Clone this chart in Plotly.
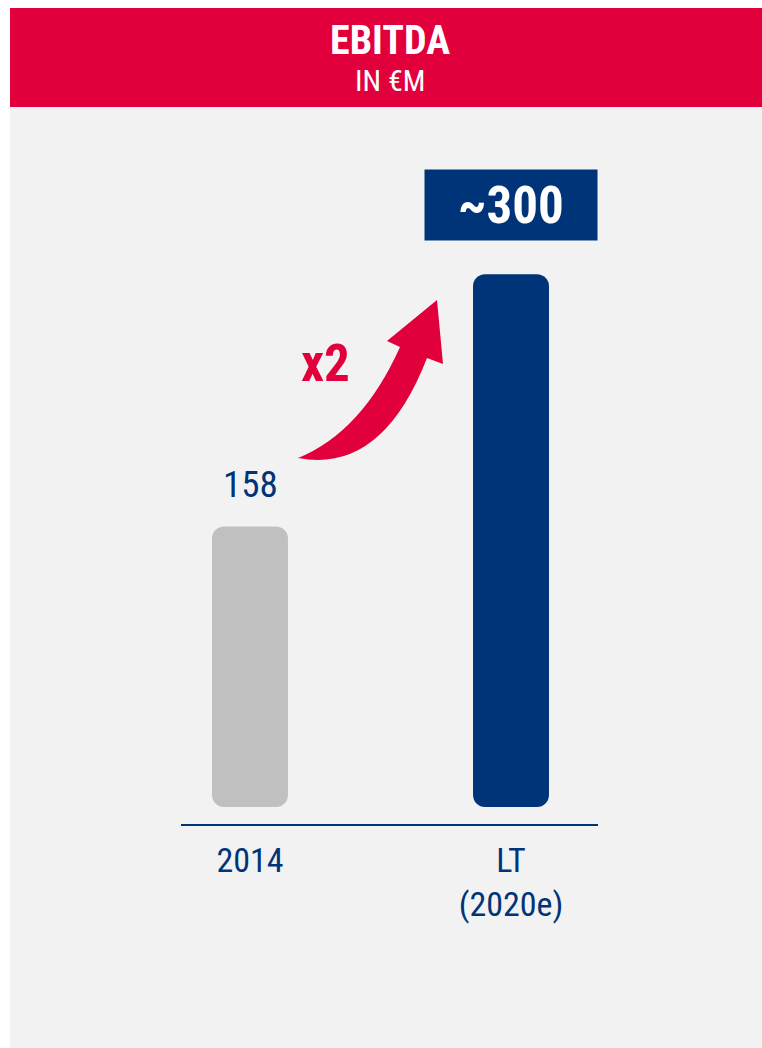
import plotly.graph_objects as go

# ---- data ----
categories = ["2014", "LT<br>(2020e)"]
values = [158, 300]
bases = [0, 0]
value_labels = ["158", "~300"]
bar_colors = ["#C0C0C0", "#003478"]
title = "EBITDA"
subtitle = "IN €M"
growth_label = "x2"

W, H = 762, 1048
RED = "#E2003C"
NAVY = "#003478"
BG = "#F2F2F2"
FONT = "Roboto Condensed, Liberation Sans Narrow, DejaVu Sans Condensed, sans-serif"

def px(x):
    return x / W

def py(y):
    return 1 - y / H

xpos = list(range(len(categories)))

fig = go.Figure()
fig.add_trace(go.Bar(x=xpos, y=values, base=bases, width=0.291,
                     marker=dict(color=bar_colors, cornerradius=12, line=dict(width=0)),
                     hoverinfo="skip", showlegend=False))

shapes = [
    dict(type="rect", xref="paper", yref="paper", x0=px(10), x1=1.02, y0=-0.02, y1=py(107),
         fillcolor=BG, line=dict(width=0), layer="below"),
    dict(type="rect", xref="paper", yref="paper", x0=px(10), x1=1.02, y0=py(107), y1=py(8),
         fillcolor=RED, line=dict(width=0), layer="below"),
]

# curved growth arrow (decoration), pixel outline -> paper coords
def P(x, y):
    return f"{px(x):.5f},{py(y):.5f}"

arrow_path = (
    f"M {P(298,458)} Q {P(362,432)} {P(400,347)} L {P(387,341)} L {P(437,300)} "
    f"L {P(443,364)} L {P(427,358)} Q {P(382,474)} {P(298,458)} Z"
)
shapes.append(dict(type="path", xref="paper", yref="paper", path=arrow_path,
                   fillcolor=RED, line=dict(width=0), layer="above"))

annotations = [
    dict(text=f"<b>{title}</b>", xref="paper", yref="paper", x=px(390), y=py(41),
         showarrow=False, font=dict(family=FONT, size=40, color="white"), xanchor="center", yanchor="middle"),
    dict(text=subtitle, xref="paper", yref="paper", x=px(390), y=py(80),
         showarrow=False, font=dict(family=FONT, size=30, color="white"), xanchor="center", yanchor="middle"),
    dict(text=value_labels[0], xref="x", yref="y", x=xpos[0], y=values[0], yshift=42,
         showarrow=False, font=dict(family=FONT, size=37, color=NAVY), xanchor="center", yanchor="middle"),
    dict(text=f"<b>{value_labels[1]}</b>", xref="x", yref="y", x=xpos[1], y=values[1], yshift=69,
         showarrow=False, font=dict(family=FONT, size=51, color="white"), xanchor="center", yanchor="middle",
         bgcolor=NAVY, width=172, height=70, borderpad=0),
    dict(text=f"<b>{growth_label}</b>", xref="paper", yref="paper", x=px(325), y=py(364),
         showarrow=False, font=dict(family=FONT, size=51, color=RED), xanchor="center", yanchor="middle"),
]

s = 1.776
ymin = -(824 - 807) / s
ymax = (807 - 170) / s
unit = 261
xmin = (181 - 250) / unit
xmax = (598 - 250) / unit

fig.update_layout(
    width=W, height=H,
    margin=dict(l=0, r=0, t=0, b=0),
    paper_bgcolor="white",
    plot_bgcolor="rgba(0,0,0,0)",
    shapes=shapes,
    annotations=annotations,
    xaxis=dict(domain=[px(181), px(598)], range=[xmin, xmax], tickvals=xpos, ticktext=categories,
               showline=True, linecolor=NAVY, linewidth=2, showgrid=False, zeroline=False,
               ticks="outside", ticklen=5, tickcolor="rgba(0,0,0,0)",
               tickfont=dict(family=FONT, size=34, color=NAVY), fixedrange=True),
    yaxis=dict(domain=[py(824), py(170)], range=[ymin, ymax], visible=False, fixedrange=True),
    showlegend=False,
)

fig.write_html("out.html", config={"displayModeBar": False},
               post_script="document.body.style.margin='0';document.body.style.overflow='hidden';")
